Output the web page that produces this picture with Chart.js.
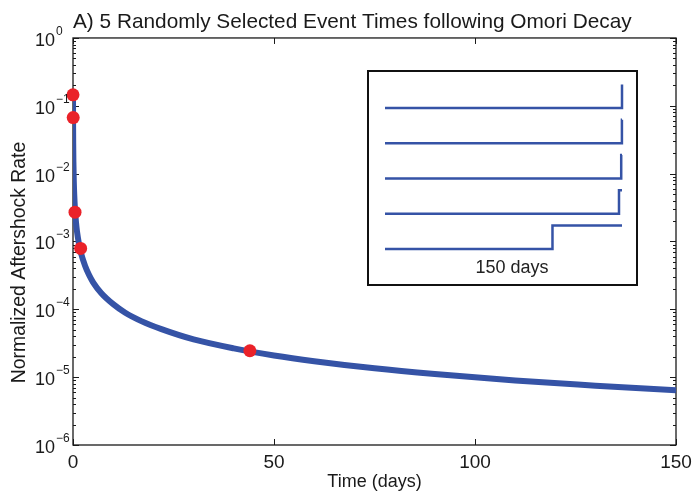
<!DOCTYPE html>
<html>
<head>
<meta charset="utf-8">
<script src="https://cdn.jsdelivr.net/npm/chart.js@4.4.0/dist/chart.umd.min.js"></script>
<style>
  body { margin: 0; background: #fff; }
  #wrap { position: relative; width: 692px; height: 494px; }
  #omori { display: block; }
  #inset { position: absolute; left: 367px; top: 70px; width: 271px; height: 216px;
           border: 2px solid #111; box-sizing: border-box; background: #fff; }
  #steps { display: block; }
  #insetLabel { position: absolute; left: 512px; top: 267px; transform: translate(-50%, -50%);
                font: 18px "Liberation Sans", Arial, sans-serif; color: #222; white-space: nowrap; }
</style>
</head>
<body>
<div id="wrap">
  <canvas id="omori" width="692" height="494"></canvas>
  <div id="inset"><canvas id="steps" width="267" height="212"></canvas></div>
  <div id="insetLabel">150 days</div>
</div>
<script>
//////////////////////// data ////////////////////////
var curveDays  = [0, 0.02, 0.05, 0.1, 0.2, 0.3, 0.5, 0.75, 1, 1.5, 2, 3, 4, 5, 7, 10, 13, 17, 22, 30, 40, 50, 60, 75, 90, 110, 130, 150];
var curveRates = [0.15, 0.056, 0.028, 0.015, 0.0076, 0.005, 0.0029, 0.0019, 0.0014, 0.00091, 0.00067, 0.00044, 0.00032, 0.00025,
                  0.000174, 0.000119, 0.000089, 0.000067, 0.000051, 0.000036, 0.0000266, 0.0000209, 0.0000172, 0.0000135,
                  0.0000111, 0.0000089, 0.0000075, 0.0000064];
var eventDays  = [0, 0.05, 0.5, 1.9, 44];
var eventRates = [0.145, 0.067, 0.0027, 0.00079, 0.0000245];
var xTicks = [0, 50, 100, 150];
var yTicks = [1e-6, 1e-5, 1e-4, 1e-3, 1e-2, 1e-1, 1];
var insetSpan = 150;

var FONT = '"Liberation Sans", Arial, sans-serif';
var INK = '#1a1a1a';
var BLUE = '#3553a6';
var RED = '#ea2229';

Chart.defaults.font.family = FONT;
Chart.defaults.color = INK;

// matlab style box, inward ticks, 10^n labels and the y title
var axisBox = {
  id: 'axisBox',
  beforeDatasetsDraw: function (chart) {
    var ctx = chart.ctx, a = chart.chartArea;
    var xs = chart.scales.x, ys = chart.scales.y;
    ctx.save();
    ctx.strokeStyle = INK;
    ctx.lineWidth = 1.3;
    ctx.strokeRect(a.left, a.top, a.right - a.left, a.bottom - a.top);
    ctx.lineWidth = 1;
    ctx.beginPath();
    xTicks.forEach(function (v) {
      var px = Math.round(xs.getPixelForValue(v)) + 0.5;
      ctx.moveTo(px, a.bottom); ctx.lineTo(px, a.bottom - 6);
      ctx.moveTo(px, a.top); ctx.lineTo(px, a.top + 6);
    });
    yTicks.forEach(function (v, i) {
      var py = Math.round(ys.getPixelForValue(v)) + 0.5;
      ctx.moveTo(a.left, py); ctx.lineTo(a.left + 6, py);
      ctx.moveTo(a.right, py); ctx.lineTo(a.right - 6, py);
      if (i < yTicks.length - 1) {
        for (var k = 2; k <= 9; k++) {
          var pm = Math.round(ys.getPixelForValue(v * k)) + 0.5;
          ctx.moveTo(a.left, pm); ctx.lineTo(a.left + 3, pm);
          ctx.moveTo(a.right, pm); ctx.lineTo(a.right - 3, pm);
        }
      }
    });
    ctx.stroke();
    ctx.restore();
  },
  afterDraw: function (chart) {
    var ctx = chart.ctx, ys = chart.scales.y, a = chart.chartArea;
    var x0 = a.left - 18;
    ctx.save();
    ctx.fillStyle = INK;
    ctx.textBaseline = 'alphabetic';
    yTicks.forEach(function (v) {
      var py = ys.getPixelForValue(v);
      var e = Math.round(Math.log10(v));
      ctx.font = '18px ' + FONT;
      ctx.textAlign = 'right';
      ctx.fillText('10', x0, py + 8);
      ctx.font = '12px ' + FONT;
      ctx.textAlign = 'left';
      ctx.fillText(e < 0 ? '\u2212' + (-e) : String(e), x0 + 1, py - 3);
    });
    // y title sits a bit below the middle in the original
    ctx.translate(20, (a.top + a.bottom) / 2 + 21);
    ctx.rotate(-Math.PI / 2);
    ctx.font = '19.4px ' + FONT;
    ctx.textAlign = 'center';
    ctx.textBaseline = 'middle';
    ctx.fillText('Normalized Aftershock Rate', 0, 0);
    ctx.restore();
  }
};

var curvePoints = curveDays.map(function (d, i) { return { x: d, y: curveRates[i] }; });
var eventPoints = eventDays.map(function (d, i) { return { x: d, y: eventRates[i] }; });

new Chart(document.getElementById('omori'), {
  type: 'scatter',
  data: {
    datasets: [
      {
        data: eventPoints,
        order: 0,
        pointRadius: 6.5,
        pointHoverRadius: 6.5,
        pointBackgroundColor: RED,
        pointBorderWidth: 0,
        clip: false
      },
      {
        data: curvePoints,
        order: 1,
        showLine: true,
        borderColor: BLUE,
        borderWidth: 6,
        pointRadius: 0,
        cubicInterpolationMode: 'monotone'
      }
    ]
  },
  options: {
    responsive: false,
    animation: false,
    devicePixelRatio: 1,
    layout: { padding: { left: 0, right: 16, top: 0, bottom: 0 } },
    plugins: {
      legend: { display: false },
      tooltip: { enabled: false },
      title: {
        display: true,
        text: 'A) 5 Randomly Selected Event Times following Omori Decay',
        align: 'start',
        fullSize: false,
        color: INK,
        font: { size: 20.8, weight: 'normal' },
        padding: { top: 9.5, bottom: 3.5 }
      }
    },
    scales: {
      x: {
        type: 'linear',
        min: 0,
        max: 150,
        grid: { display: false },
        border: { display: false },
        ticks: { font: { size: 19 }, color: INK, padding: -2, maxRotation: 0 },
        afterBuildTicks: function (s) { s.ticks = xTicks.map(function (v) { return { value: v }; }); },
        afterFit: function (s) { s.height = 49; },
        title: { display: true, text: 'Time (days)', color: INK, font: { size: 18 }, padding: { top: 0, bottom: 1 } }
      },
      y: {
        type: 'logarithmic',
        min: 1e-6,
        max: 1,
        grid: { display: false },
        border: { display: false },
        ticks: { display: false },
        afterBuildTicks: function (s) { s.ticks = yTicks.map(function (v) { return { value: v }; }); },
        afterFit: function (s) { s.width = 73; }
      }
    }
  },
  plugins: [axisBox]
});

////////////////////////// inset: one step line per event //////////////////////////
var stepSets = eventDays.map(function (d, i) {
  var base = (eventDays.length - 1 - i) * 3;
  var s = insetSpan - d;
  return {
    data: [{ x: 0, y: base }, { x: s, y: base }, { x: s, y: base + 2 }, { x: insetSpan, y: base + 2 }],
    showLine: true,
    borderColor: BLUE,
    borderWidth: 2.5,
    pointRadius: 0,
    clip: false
  };
});

new Chart(document.getElementById('steps'), {
  type: 'scatter',
  data: { datasets: stepSets },
  options: {
    responsive: false,
    animation: false,
    devicePixelRatio: 1,
    layout: { padding: { left: 16, right: 14, top: 10, bottom: 27 } },
    plugins: { legend: { display: false }, tooltip: { enabled: false } },
    scales: {
      x: { type: 'linear', min: 0, max: insetSpan, display: false },
      y: { type: 'linear', min: -0.68, max: 14.21, display: false }
    }
  }
});
</script>
</body>
</html>
